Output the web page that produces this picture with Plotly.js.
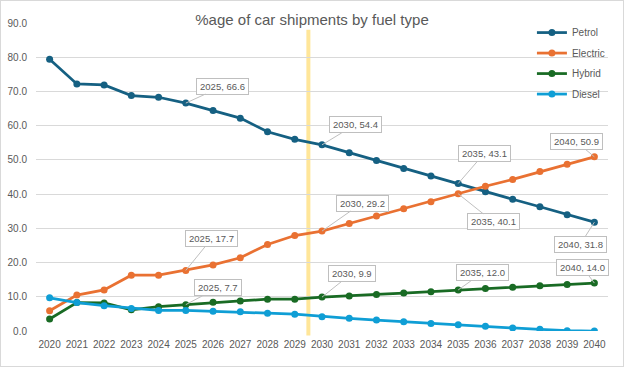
<!DOCTYPE html>
<html>
<head>
<meta charset="utf-8">
<script src="https://cdn.plot.ly/plotly-3.0.1.min.js"></script>
<style>
  html, body { margin: 0; padding: 0; background: #fff; }
  #chart { width: 622px; height: 365px; border: 1px solid #d9d9d9; }
</style>
</head>
<body>
<div id="chart"></div>
<script>
// ---- data ----
const years = [2020, 2021, 2022, 2023, 2024, 2025, 2026, 2027, 2028, 2029, 2030,
               2031, 2032, 2033, 2034, 2035, 2036, 2037, 2038, 2039, 2040];
const petrol   = [79.4, 72.2, 71.9, 68.8, 68.3, 66.6, 64.4, 62.2, 58.2, 56.0, 54.4,
                  52.1, 49.8, 47.5, 45.3, 43.1, 40.7, 38.5, 36.3, 34.0, 31.8];
const electric = [5.9, 10.5, 12.0, 16.3, 16.3, 17.7, 19.3, 21.4, 25.3, 27.9, 29.2,
                  31.4, 33.6, 35.7, 37.8, 40.1, 42.3, 44.3, 46.6, 48.7, 50.9];
const hybrid   = [3.5, 8.3, 8.2, 6.2, 7.1, 7.7, 8.4, 8.8, 9.3, 9.3, 9.9,
                  10.2, 10.7, 11.1, 11.5, 12.0, 12.4, 12.8, 13.2, 13.6, 14.0];
const diesel   = [9.7, 8.3, 7.4, 6.6, 6.0, 6.0, 5.8, 5.6, 5.2, 4.9, 4.2,
                  3.7, 3.2, 2.7, 2.2, 1.8, 1.4, 0.9, 0.5, 0.1, 0.0];
const seriesNames = ['Petrol', 'Electric', 'Hybrid', 'Diesel'];
const yTicks = [0, 10, 20, 30, 40, 50, 60, 70, 80, 90];
const markerYear = 2029.5;
const titleText = '%age of car shipments by fuel type';

// labelled points: [series, year]  (label offsets are styling)
const callouts = [
  ['Petrol', 2025, 37, -17], ['Petrol', 2030, 33, -20], ['Petrol', 2035, 26, -30], ['Petrol', 2040, -14, 22],
  ['Electric', 2025, 26, -32], ['Electric', 2030, 40, -28], ['Electric', 2035, 35, 28], ['Electric', 2040, -18, -15],
  ['Hybrid', 2025, 32, -17], ['Hybrid', 2030, 30, -24], ['Hybrid', 2035, 24, -17], ['Hybrid', 2040, -12, -16]
];

// ---- styling ----
const values = { Petrol: petrol, Electric: electric, Hybrid: hybrid, Diesel: diesel };
const colors = { Petrol: '#156082', Electric: '#E97132', Hybrid: '#196B24', Diesel: '#0F9ED5' };
const FONT = 'Liberation Sans, Arial, sans-serif';
const GREY = '#595959';

const traces = seriesNames.map(name => ({
  type: 'scatter', mode: 'lines+markers', name: name,
  x: years, y: values[name], legendgroup: name,
  line: { color: colors[name], width: 2.75 },
  marker: { color: colors[name], size: 7 }
}));

const annotations = callouts.map(([s, yr, ax, ay]) => {
  const v = values[s][years.indexOf(yr)];
  const txt = yr + ', ' + v.toFixed(1);
  return {
    x: yr, y: v, xref: 'x', yref: 'y', text: txt,
    showarrow: true, arrowhead: 0, arrowwidth: 1, arrowcolor: '#bfbfbf', standoff: 0,
    ax: ax, ay: ay, axref: 'pixel', ayref: 'pixel',
    bgcolor: '#ffffff', bordercolor: '#bfbfbf', borderwidth: 1, borderpad: 2,
    width: txt.length * 5.3 - 6, height: 11,
    font: { family: FONT, size: 9.5, color: GREY }
  };
});

const layout = {
  width: 622, height: 365,
  margin: { l: 35, r: 15, t: 22, b: 35 },
  paper_bgcolor: '#ffffff', plot_bgcolor: '#ffffff',
  font: { family: FONT, color: GREY },
  title: {
    text: titleText, xref: 'container', x: 0.5, xanchor: 'center',
    yref: 'container', y: 0.948, yanchor: 'middle',
    font: { family: FONT, size: 15, color: GREY }
  },
  xaxis: {
    range: [2019.5, 2040.5], tickmode: 'array', tickvals: years,
    ticktext: years.map(String), showgrid: false, zeroline: false, showline: false,
    ticks: '', ticklabelstandoff: 6, tickfont: { family: FONT, size: 10, color: GREY },
    fixedrange: true
  },
  yaxis: {
    range: [0, 90], tickmode: 'array', tickvals: yTicks,
    ticktext: yTicks.map(v => v.toFixed(1)), showgrid: true, gridcolor: '#d9d9d9', gridwidth: 1,
    zeroline: false, showline: false, ticks: '', ticklabelstandoff: 8,
    tickfont: { family: FONT, size: 10, color: GREY }, fixedrange: true
  },
  legend: {
    x: 0.867, xanchor: 'left', y: 1.016, yanchor: 'top', bgcolor: 'rgba(0,0,0,0)',
    font: { family: FONT, size: 10, color: GREY }, tracegroupgap: 1.5, itemwidth: 30
  },
  shapes: [{
    type: 'line', xref: 'x', yref: 'paper', x0: markerYear, x1: markerYear,
    y0: -0.015, y1: 0.978, layer: 'below',
    line: { color: '#FFE699', width: 4 }
  }],
  annotations: annotations
};

Plotly.newPlot('chart', traces, layout, { displayModeBar: false, staticPlot: true });
</script>
</body>
</html>
